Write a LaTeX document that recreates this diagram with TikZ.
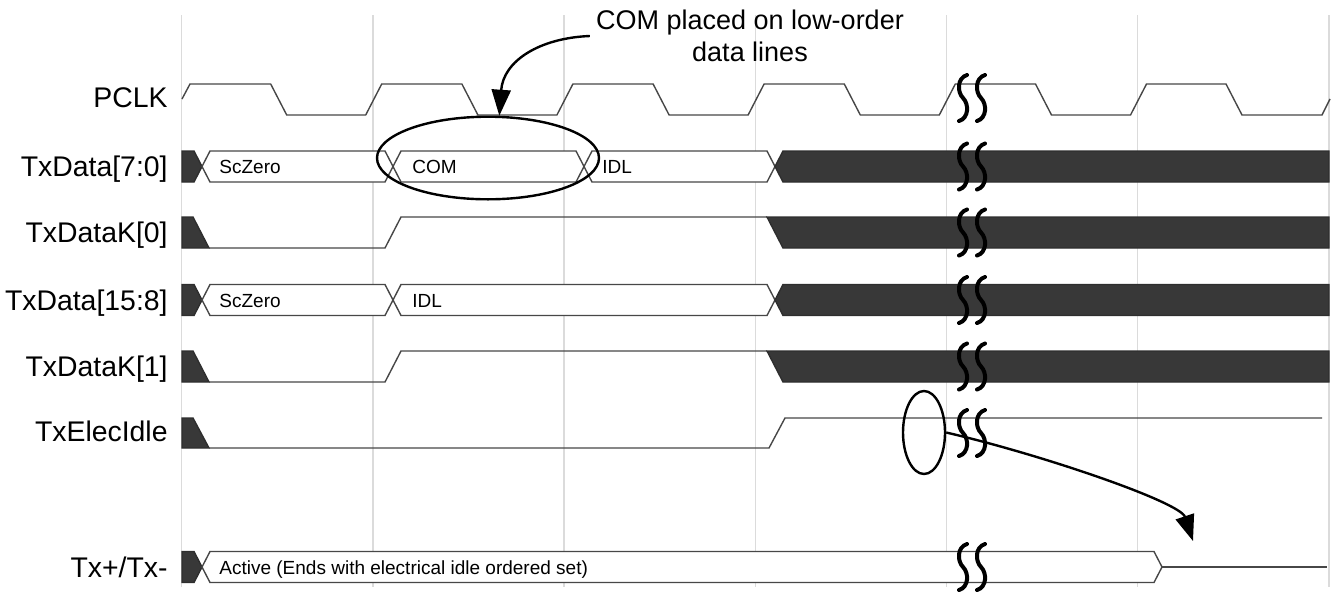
\documentclass[tikz,border=0pt]{standalone}
\usepackage{fontspec}
\setmainfont{Liberation Sans}
\usetikzlibrary{arrows.meta,shapes.geometric}

\tikzset{
  wave/.style={draw=black!72, line width=0.7pt},
  darkfill/.style={fill=black!78, draw=black!82, line width=0.7pt},
  gridline/.style={draw=black!14, line width=0.7pt},
  siglabel/.style={anchor=base east, inner sep=0pt, font=\fontsize{14.2}{16}\selectfont},
  vallabel/.style={anchor=base west, inner sep=0pt, font=\fontsize{9.5}{11}\selectfont},
  ring/.style={draw=black, ellipse, line width=1.2pt, inner sep=0pt},
  notearrow/.style={-{Triangle[length=13pt,width=9.5pt]}, line width=1.2pt},
  brkline/.style={line width=2pt, line cap=round},
  brk/.pic={\draw[brkline] (4,-23) .. controls (-6,-20) and (-6,-6) .. (0,0) .. controls (6,6) and (6,20) .. (-4,23);}
}

% one bus value: start x, end x, middle y
\newcommand{\busseg}[3]{\draw[wave, fill=white] (#1,#3) -- ({#1+8},{#3-15.5}) -- ({#2-8},{#3-15.5}) -- (#2,#3) -- ({#2-8},{#3+15.5}) -- ({#1+8},{#3+15.5}) -- cycle;}
% unknown value at the start of a bus
\newcommand{\busstart}[1]{\draw[darkfill] (182,{#1-15.5}) -- (194,{#1-15.5}) -- (202,#1) -- (194,{#1+15.5}) -- (182,{#1+15.5}) -- cycle;}

\begin{document}
\begin{tikzpicture}[x=0.5pt,y=-0.5pt]
\useasboundingbox (0,0) rectangle (1342,600);

% clock grid
\foreach \k in {0,...,6}
  \draw[gridline] ({181.7+191.2*\k},15) -- ({181.7+191.2*\k},587);

% signal names
\node[siglabel] (pclk) at (168,107) {PCLK};
\node[siglabel] (txd0) at (168,176) {TxData[7:0]};
\node[siglabel] (txk0) at (168,242) {TxDataK[0]};
\node[siglabel] (txd1) at (168,310) {TxData[15:8]};
\node[siglabel] (txk1) at (168,376) {TxDataK[1]};
\node[siglabel] (elec) at (168,441) {TxElecIdle};
\node[siglabel] (txpn) at (168,577) {Tx+/Tx-};

% PCLK
\draw[wave] (182,99) -- (190,84)
  \foreach \k in {0,...,4} {
    -- ({181.7+191.2*\k+89},84) -- ({181.7+191.2*\k+105},115)
    -- ({181.7+191.2*\k+184},115) -- ({181.7+191.2*\k+200},84)}
  -- (1226,84) -- (1242,115) -- (1322,115) -- (1330,99);

% TxData[7:0]
\busstart{166.5}
\busseg{202}{393}{166.5}
\busseg{393}{584}{166.5}
\busseg{584}{775}{166.5}
\draw[darkfill] (775,166.5) -- (783,151) -- (1329,151) -- (1329,182) -- (783,182) -- cycle;

% TxDataK[0]
\draw[darkfill] (182,217) -- (193,217) -- (209,248) -- (182,248) -- cycle;
\draw[wave] (209,248) -- (385,248) -- (401,217) -- (767,217);
\draw[darkfill] (767,217) -- (1329,217) -- (1329,248) -- (783,248) -- cycle;

% TxData[15:8]
\busstart{300}
\busseg{202}{393}{300}
\busseg{393}{775}{300}
\draw[darkfill] (775,300) -- (783,284.5) -- (1329,284.5) -- (1329,315.5) -- (783,315.5) -- cycle;

% TxDataK[1]
\draw[darkfill] (182,351) -- (193,351) -- (209,382) -- (182,382) -- cycle;
\draw[wave] (209,382) -- (385,382) -- (401,351) -- (767,351);
\draw[darkfill] (767,351) -- (1329,351) -- (1329,382) -- (783,382) -- cycle;

% TxElecIdle
\draw[darkfill] (182,418) -- (193,418) -- (209,448) -- (182,448) -- cycle;
\draw[wave] (209,448) -- (769,448) -- (785,418) -- (1322,418);

% Tx+/Tx-
\busstart{567}
\busseg{202}{1162}{567}
\draw[wave] (1162,567) -- (1327,567);

% values
\node[vallabel] (sczero0) at (219,173) {ScZero};
\node[vallabel] (com0) at (412,173) {COM};
\node[vallabel] (idl0) at (602,173) {IDL};
\node[vallabel] (sczero1) at (219,307) {ScZero};
\node[vallabel] (idl1) at (412,307) {IDL};
\node[vallabel] (active) at (219,574) {Active (Ends with electrical idle ordered set)};

% time breaks
\foreach \y in {98,166.5,232.5,300,366.5,433,567} {
  \pic at (963,\y) {brk};
  \pic at (981,\y) {brk};
}

% call-outs
\node[ring, minimum width=111pt, minimum height=41.3pt] (comring) at (488,158) {};
\node[ring, minimum width=21pt, minimum height=41.5pt] (idlering) at (924,432.5) {};
\node[align=center, inner sep=3pt, font=\fontsize{13.5}{16}\selectfont] (comnote) at (750,36) {COM placed on low-order\\data lines};
\coordinate (idletip) at (1193,541);
\draw[notearrow] (comnote.west) .. controls +(-50,2) and +(4,-55) .. (comring.75);
\draw[notearrow] (idlering.east) .. controls +(95,22) and +(-13,-39) .. (idletip);
\end{tikzpicture}
\end{document}
